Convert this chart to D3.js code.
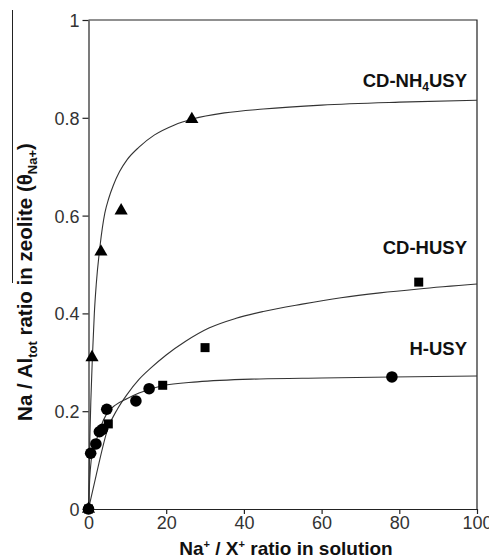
<!DOCTYPE html>
<html>
<head>
<meta charset="utf-8">
<script src="https://cdn.jsdelivr.net/npm/d3@7"></script>
<style>
  body { margin: 0; background: #fff; }
  svg { font-family: "Liberation Sans", Arial, sans-serif; }
  .tick text { font-size: 18px; fill: #333; }
  .tick line, .domain { stroke: #222; }
</style>
</head>
<body>
<svg id="chart" width="489" height="559"></svg>
<script>
// Measured points (x = Na+/X+ ratio, y = Na/Al_tot)
var nh4X = [0, 0.9, 3.2, 8.4, 26.6];
var nh4Y = [0, 0.31, 0.526, 0.61, 0.797];
var huX = [0, 5.1, 19.1, 30, 85];
var huY = [0, 0.174, 0.253, 0.33, 0.464];
var hX = [0, 0.56, 1.9, 2.8, 3.6, 4.7, 12.2, 15.6, 78.1];
var hY = [0, 0.114, 0.133, 0.158, 0.163, 0.204, 0.221, 0.246, 0.27];

// Fitted curves
var nh4FitX = [0, 0.3, 0.6, 1, 1.5, 2, 3, 4.2, 5.2, 6.4, 8, 10, 13, 17, 22, 27, 35, 45, 60, 80, 100];
var nh4FitY = [0, 0.13, 0.22, 0.31, 0.40, 0.46, 0.54, 0.605, 0.635, 0.662, 0.69, 0.715, 0.74, 0.765, 0.785, 0.798, 0.81, 0.818, 0.826, 0.832, 0.836];
var huFitX = [0, 2, 5, 7.5, 10, 13, 16, 20, 25, 31, 38, 45, 55, 65, 75, 85, 100];
var huFitY = [0, 0.07, 0.165, 0.205, 0.235, 0.265, 0.288, 0.315, 0.343, 0.37, 0.39, 0.404, 0.419, 0.432, 0.442, 0.45, 0.46];
var hFitX = [0, 0.3, 0.7, 1.2, 2, 3, 4.7, 7, 10, 13, 19, 28, 44, 60, 78, 100];
var hFitY = [0, 0.06, 0.1, 0.12, 0.14, 0.165, 0.195, 0.213, 0.226, 0.237, 0.252, 0.26, 0.266, 0.268, 0.27, 0.272];

var xTicks = [0, 20, 40, 60, 80, 100];
var yTicks = [0, 0.2, 0.4, 0.6, 0.8, 1];

var svg = d3.select("#chart");
var margin = {left: 88.5, right: 12, top: 20, bottom: 50};
var width = 489 - margin.left - margin.right,
    height = 559 - margin.top - margin.bottom;

var x = d3.scaleLinear().domain([0, 100]).range([margin.left, margin.left + width]);
var y = d3.scaleLinear().domain([0, 1]).range([margin.top + height, margin.top]);

// stray scan line left of the y title (present in the source figure)
svg.append("line")
    .attr("x1", 12.5).attr("x2", 12.5)
    .attr("y1", 10).attr("y2", 283)
    .attr("stroke", "#222")
    .attr("stroke-width", 1);

// frame (top and right)
svg.append("path")
    .attr("d", "M" + x(0) + "," + y(1) + "H" + x(100) + "V" + y(0))
    .attr("fill", "none")
    .attr("stroke", "#222")
    .attr("stroke-width", 1.2);

svg.append("g")
    .attr("transform", "translate(0," + y(0) + ")")
    .call(d3.axisBottom(x).tickValues(xTicks).tickSize(5).tickSizeOuter(0).tickPadding(2))
    .call(function(g) { g.selectAll("line, path").attr("stroke-width", 1.2); });

svg.append("g")
    .attr("transform", "translate(" + x(0) + ",0)")
    .call(d3.axisLeft(y).tickValues(yTicks).tickSize(6).tickSizeOuter(0).tickPadding(3)
        .tickFormat(function(d) { return d3.format("")(+d.toFixed(1)); }))
    .call(function(g) {
        g.selectAll("line, path").attr("stroke-width", 1.2);
        g.selectAll("text").attr("dy", "0.36em");
    });

// fitted lines
var line = d3.line()
    .x(function(d) { return x(d[0]); })
    .y(function(d) { return y(d[1]); })
    .curve(d3.curveMonotoneX);

function drawFit(xs, ys) {
    svg.append("path")
        .datum(d3.zip(xs, ys))
        .attr("d", line)
        .attr("fill", "none")
        .attr("stroke", "#333")
        .attr("stroke-width", 1.1);
}
drawFit(nh4FitX, nh4FitY);
drawFit(huFitX, huFitY);
drawFit(hFitX, hFitY);

// markers
svg.append("g").selectAll("path")
    .data(d3.zip(nh4X, nh4Y))
    .enter().append("path")
    .attr("transform", function(d) { return "translate(" + x(d[0]) + "," + y(d[1]) + ")"; })
    .attr("d", d3.symbol().type(d3.symbolTriangle).size(75))
    .attr("fill", "#000");

svg.append("g").selectAll("rect")
    .data(d3.zip(huX, huY))
    .enter().append("rect")
    .attr("x", function(d) { return x(d[0]) - 4.5; })
    .attr("y", function(d) { return y(d[1]) - 4.5; })
    .attr("width", 9)
    .attr("height", 9)
    .attr("fill", "#000");

svg.append("g").selectAll("circle")
    .data(d3.zip(hX, hY))
    .enter().append("circle")
    .attr("cx", function(d) { return x(d[0]); })
    .attr("cy", function(d) { return y(d[1]); })
    .attr("r", 5.8)
    .attr("fill", "#000");

// series labels
var lab = svg.append("g")
    .attr("font-weight", "bold")
    .attr("font-size", 18.5)
    .attr("fill", "#111")
    .attr("text-anchor", "end");

var t1 = lab.append("text").attr("x", 467).attr("y", 87);
t1.append("tspan").text("CD-NH");
t1.append("tspan").attr("font-size", 12).attr("dy", 4).text("4");
t1.append("tspan").attr("dy", -4).text("USY");

lab.append("text").attr("x", 467).attr("y", 254).text("CD-HUSY");
lab.append("text").attr("x", 467).attr("y", 355).text("H-USY");

// axis titles
var xt = svg.append("text")
    .attr("x", 286)
    .attr("y", 555)
    .attr("text-anchor", "middle")
    .attr("font-weight", "bold")
    .attr("font-size", 19)
    .attr("fill", "#111");
xt.append("tspan").text("Na");
xt.append("tspan").attr("font-size", 11).attr("dy", -7).text("+");
xt.append("tspan").attr("dy", 7).text(" / X");
xt.append("tspan").attr("font-size", 11).attr("dy", -7).text("+");
xt.append("tspan").attr("dy", 7).text(" ratio in solution");

var yt = svg.append("text")
    .attr("transform", "translate(32,282) rotate(-90)")
    .attr("text-anchor", "middle")
    .attr("font-weight", "bold")
    .attr("font-size", 20.5)
    .attr("fill", "#111");
yt.append("tspan").text("Na / Al");
yt.append("tspan").attr("font-size", 13).attr("dy", 5).text("tot");
yt.append("tspan").attr("dy", -5).text(" ratio in zeolite (\u03b8");
yt.append("tspan").attr("font-size", 13).attr("dy", 5).text("Na+");
yt.append("tspan").attr("dy", -5).text(")");
</script>
</body>
</html>
